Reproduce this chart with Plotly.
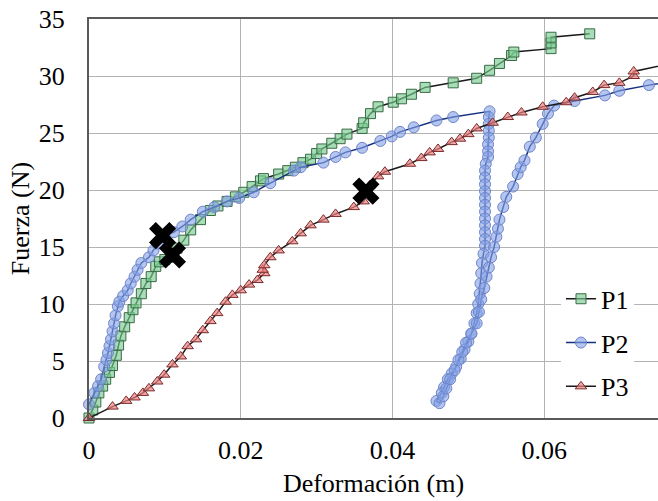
import plotly.graph_objects as go

# ---------------- data ----------------
p1_x = [0, 0.0005, 0.0009, 0.0013, 0.0018, 0.0022, 0.0027, 0.0031, 0.0036, 0.0039, 0.0042, 0.0047,
        0.0053, 0.0058, 0.0062, 0.0069, 0.0075, 0.0082, 0.0088, 0.0093, 0.0100, 0.0108, 0.0116, 0.0125,
        0.0134, 0.0147, 0.0160, 0.0170, 0.0182, 0.0193, 0.0204, 0.0215, 0.0226, 0.0230, 0.0250, 0.0262,
        0.0272, 0.0282, 0.0292, 0.0300, 0.0307, 0.0320, 0.0331, 0.0340, 0.0360, 0.0362, 0.0371, 0.0381,
        0.0401, 0.0412, 0.0425, 0.0443, 0.0480, 0.0511, 0.0528, 0.0541, 0.0557, 0.0560, 0.0609, 0.0609,
        0.0609, 0.0660]
p1_y = [0, 0.7, 1.4, 2.2, 2.8, 3.4, 4.0, 4.6, 5.5, 6.4, 7.2, 8.0,
        8.8, 9.5, 10.1, 10.9, 11.8, 12.4, 13.3, 13.7, 13.9, 14.1, 14.9, 15.6,
        16.5, 17.4, 18.2, 18.6, 19.0, 19.4, 19.8, 20.3, 20.8, 21.0, 21.4, 21.7,
        22.0, 22.4, 22.7, 23.2, 23.6, 24.1, 24.5, 24.9, 25.4, 25.9, 26.7, 27.3,
        27.7, 28.0, 28.4, 29.0, 29.4, 29.8, 30.5, 31.1, 31.8, 32.1, 32.4, 32.9,
        33.4, 33.7]

p2_x = [0, 0.0007, 0.0012, 0.0016, 0.0020, 0.0023, 0.0025, 0.0027, 0.0029, 0.0031, 0.0033, 0.0035,
        0.0038, 0.0040, 0.0045, 0.0051, 0.0055, 0.0060, 0.0064, 0.0069, 0.0079, 0.0085, 0.0090, 0.0097,
        0.0112, 0.0123, 0.0134, 0.0150, 0.0165, 0.0182, 0.0198, 0.0217, 0.0239, 0.0270, 0.0279, 0.0309,
        0.0325, 0.0338, 0.0360, 0.0384, 0.0399, 0.0410, 0.0428, 0.0458, 0.0480, 0.0528,
        0.0527, 0.0527, 0.0527, 0.0527, 0.0526, 0.0526, 0.0526,
        0.0523, 0.0522, 0.0522, 0.0522, 0.0522, 0.0522, 0.0522, 0.0522, 0.0522, 0.0522, 0.0522, 0.0522, 0.0522,
        0.0520, 0.0518, 0.0517, 0.0516, 0.0515, 0.0513, 0.0511, 0.0508, 0.0504, 0.0500, 0.0495, 0.0490,
        0.0484, 0.0478, 0.0473, 0.0468, 0.0465, 0.0458,
        0.0462, 0.0467, 0.0471, 0.0476, 0.0482, 0.0487, 0.0492, 0.0497, 0.0504, 0.0511, 0.0514, 0.0517,
        0.0521, 0.0524, 0.0527, 0.0530, 0.0534, 0.0537, 0.0539, 0.0541, 0.0546, 0.0550, 0.0559, 0.0565,
        0.0569, 0.0574, 0.0581, 0.0589, 0.0598, 0.0605, 0.0613, 0.0640, 0.0680, 0.0699, 0.0738, 0.0780]
p2_y = [1.2, 2.2, 2.8, 3.4, 4.5, 5.1, 5.7, 6.3, 6.9, 7.6, 8.3, 9.0,
        9.8, 10.2, 10.7, 11.2, 11.8, 12.4, 13.0, 13.6, 14.1, 14.7, 15.3, 16.0,
        16.3, 16.8, 17.4, 18.1, 18.5, 19.0, 19.3, 19.8, 20.6, 21.7, 22.0, 22.4,
        22.9, 23.3, 23.7, 24.3, 24.7, 25.1, 25.5, 26.1, 26.4, 26.9,
        26.4, 25.8, 25.2, 24.6, 24.0, 23.4, 22.9,
        22.3, 21.7, 21.1, 20.5, 19.9, 19.3, 18.7, 18.1, 17.5, 16.9, 16.3, 15.7, 15.1,
        14.4, 13.6, 12.7, 11.8, 10.9, 10.0, 9.2, 8.3, 7.4, 6.7, 6.0, 5.2,
        4.5, 3.9, 3.4, 2.7, 2.2, 1.5,
        1.3, 1.9, 2.6, 3.4, 4.2, 5.1, 5.8, 6.6, 7.4, 8.3, 9.3, 10.4,
        11.4, 12.4, 13.2, 14.1, 15.0, 15.9, 16.6, 17.4, 18.5, 19.4, 20.3, 21.4,
        22.0, 22.6, 23.8, 24.6, 25.8, 26.7, 27.4, 27.8, 28.3, 28.7, 29.2, 29.6]

p3_x = [0, 0.0031, 0.0049, 0.0060, 0.0071, 0.0079, 0.0090, 0.0099, 0.0110, 0.0121, 0.0130, 0.0141,
        0.0150, 0.0160, 0.0169, 0.0180, 0.0189, 0.0200, 0.0211, 0.0222, 0.0231, 0.0229, 0.0231, 0.0239,
        0.0250, 0.0268, 0.0279, 0.0292, 0.0309, 0.0325, 0.0349, 0.0362, 0.0366, 0.0370, 0.0381, 0.0390,
        0.0423, 0.0438, 0.0449, 0.0460, 0.0478, 0.0489, 0.0500, 0.0511, 0.0532, 0.0552, 0.0570, 0.0598,
        0.0629, 0.0640, 0.0664, 0.0679, 0.0699, 0.0718, 0.0718, 0.0780]
p3_y = [0, 1.0, 1.5, 1.8, 2.2, 2.6, 3.2, 3.8, 4.7, 5.4, 6.3, 6.9,
        7.7, 8.5, 9.2, 10.2, 10.8, 11.2, 11.7, 12.1, 12.7, 13.0, 13.4, 14.1,
        14.7, 15.5, 16.2, 16.9, 17.4, 17.9, 18.5, 19.0, 19.6, 20.4, 21.2, 21.6,
        22.3, 22.8, 23.3, 23.6, 24.2, 24.5, 24.9, 25.4, 25.9, 26.4, 26.8, 27.3,
        27.7, 28.1, 28.6, 29.2, 29.4, 30.0, 30.4, 31.3]

fail_x = [0.0097, 0.0110, 0.0365]
fail_y = [16.0, 14.3, 19.9]

x_ticks = [0, 0.02, 0.04, 0.06]
x_tick_labels = ["0", "0.02", "0.04", "0.06"]
y_ticks = [0, 5, 10, 15, 20, 25, 30, 35]

FONT = "Liberation Serif"
FS = 26

fig = go.Figure()

fig.add_trace(go.Scatter(
    x=p1_x, y=p1_y, name="P1", mode="lines+markers", legendgroup="a",
    line=dict(color="#1a1a1a", width=1.5),
    marker=dict(symbol="square", size=10, color="rgba(120,205,145,0.65)",
                line=dict(color="#3a6a45", width=1)),
    cliponaxis=False))
fig.add_trace(go.Scatter(
    x=p2_x, y=p2_y, name="P2", mode="lines+markers", legendgroup="b",
    line=dict(color="#15307f", width=1.5),
    marker=dict(symbol="circle", size=11, color="rgba(130,160,230,0.6)",
                line=dict(color="#6e84c8", width=1)),
    cliponaxis=False))
fig.add_trace(go.Scatter(
    x=p3_x, y=p3_y, name="P3", mode="lines+markers", legendgroup="c",
    line=dict(color="#1a1a1a", width=1.5),
    marker=dict(symbol="triangle-up", size=10, color="rgba(240,130,130,0.7)",
                line=dict(color="#7a2a2a", width=1)),
    cliponaxis=False))
fig.add_trace(go.Scatter(
    x=fail_x, y=fail_y, mode="markers", showlegend=False,
    marker=dict(symbol="x", size=24, color="black", line=dict(width=0)),
    cliponaxis=False))

fig.update_layout(
    width=658, height=501,
    margin=dict(l=89, r=0, t=19, b=83),
    paper_bgcolor="white", plot_bgcolor="white",
    font=dict(family=FONT, size=FS, color="black"),
    legend=dict(x=0.8295, y=0.3575, xanchor="left", yanchor="top",
                bgcolor="white", font=dict(size=FS, family=FONT),
                tracegroupgap=7, traceorder="grouped",
                itemwidth=30),
    showlegend=True,
)
fig.update_xaxes(
    range=[0, 0.075], tickvals=x_ticks, ticktext=x_tick_labels,
    showgrid=True, gridcolor="#b3b3b3", gridwidth=1,
    showline=True, linecolor="#5a5a5a", linewidth=2, mirror=True,
    ticks="", zeroline=False, ticklabelstandoff=8,
    title=dict(text="Deformación (m)", font=dict(size=FS, family=FONT), standoff=10),
    tickfont=dict(size=FS, family=FONT),
)
fig.update_yaxes(
    range=[0, 35], tickvals=y_ticks,
    showgrid=True, gridcolor="#b3b3b3", gridwidth=1,
    showline=True, linecolor="#5a5a5a", linewidth=2,
    ticks="", zeroline=False, ticklabelstandoff=17,
    title=dict(text="Fuerza (N)", font=dict(size=FS, family=FONT), standoff=2),
    tickfont=dict(size=FS, family=FONT),
)

fig.write_html("out.html", config={"displayModeBar": False},
               post_script="document.body.style.margin='0';document.body.style.overflow='hidden';")
